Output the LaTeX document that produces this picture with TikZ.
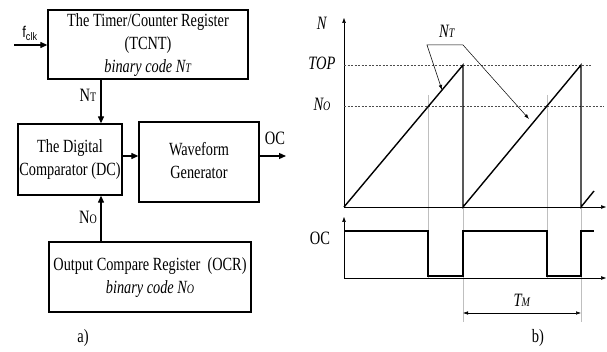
\documentclass[tikz,border=0pt]{standalone}
\usepackage{graphicx}
\usepackage{fontspec}
\setmainfont{Liberation Serif}
\newfontfamily\arialfont{Liberation Sans}
\usetikzlibrary{arrows.meta, positioning, calc}
\newcommand{\lowcap}[1]{{\fontsize{10}{10}\selectfont #1}}
\newcommand{\tall}[1]{\scalebox{1}[1.3]{\begin{tabular}{@{}c@{}}#1\end{tabular}}}

\begin{document}
\begin{tikzpicture}[
    x=1pt, y=-1pt,
    box/.style={rectangle, draw, line width=1.3pt, align=center, inner sep=0pt, font=\fontsize{14.3}{17.7}\selectfont},
    arrow/.style={-{Triangle[length=7pt, width=6pt]}, line width=1.2pt},
    axis/.style={-{Triangle[length=5pt, width=3.5pt]}, line width=0.6pt},
    wave/.style={line width=1.4pt},
    level/.style={dash pattern=on 2pt off 1.5pt, line width=0.7pt, black!70},
    guide/.style={line width=0.4pt, black!25},
    lbl/.style={font=\fontsize{14.5}{17}\selectfont},
    pointer/.style={{Latex[length=5pt, width=3.5pt]}-{Latex[length=5pt, width=3.5pt]}, line width=0.5pt}
]
\useasboundingbox (0,0) rectangle (607,352);

\node[box, minimum width=200pt, minimum height=69pt] (tcnt) at (148,44.5) {\tall{The Timer/Counter Register\\(TCNT)\\\textit{binary code N\lowcap{T}}}};
\node[box, minimum width=104pt, minimum height=71pt] (dc) at (70,159.5) {\tall{The Digital\\Comparator (DC)}};
\node[box, minimum width=120pt, minimum height=80pt] (wg) at (199,162) {\tall{Waveform\\Generator}};
\node[box, minimum width=202pt, minimum height=70pt] (ocr) at (150,277) {\tall{Output Compare Register~~(OCR)\\\textit{binary code N\lowcap{O}}}};

\coordinate (clk) at (14,45);
\coordinate (bus) at (101,0);
\coordinate (mid) at (0,156);
\coordinate (oc) at (286,156);
\node[font=\arialfont\fontsize{13}{13}\selectfont] (fclk) at (30,33) {\scalebox{1}[1.2]{f\textsubscript{clk}}};
\node[lbl] (ntl) at (88,97) {\tall{N\lowcap{T}}};
\node[lbl] (nol) at (88,219) {\tall{N\lowcap{O}}};
\node[lbl] (ocl) at (275,140) {\tall{OC}};
\node[lbl] (la) at (83,338) {\tall{a)}};

\draw[arrow] (clk) -- (clk -| tcnt.west);
\draw[arrow] (bus |- tcnt.south) -- (bus |- dc.north);
\draw[arrow] (bus |- ocr.north) -- (bus |- dc.south);
\draw[arrow] (dc.east |- mid) -- (wg.west |- mid);
\draw[arrow] (wg.east |- mid) -- (oc);

\coordinate (o1) at (344,207);
\coordinate (o2) at (344,278);
\foreach \x in {428,547} \draw[guide] (\x,95) -- (\x,278);
\foreach \x in {463,581} \draw[guide] (\x,207) -- (\x,322);
\draw[axis] (o1) -- (344,18);
\draw[axis] (o1) -- (606,207);
\draw[axis] (o2) -- (344,217);
\draw[axis] (o2) -- (606,278);
\draw[level] (o1 |- 0,65) -- (592,65);
\draw[level] (o1 |- 0,106) -- (604,106);
\draw[wave] (o1) -- (463,65) -- (463,207) -- (581,65) -- (581,207) -- (594,191);
\draw[wave] (344,231) -- (428,231) -- (428,276) -- (463,276) -- (463,231) -- (547,231) -- (547,276) -- (581,276) -- (581,231) -- (594,231);

\node[lbl] (nax) at (322,25) {\tall{\textit{N}}};
\node[lbl] (top) at (322,65) {\tall{\textit{TOP}}};
\node[lbl] (nor) at (322,106) {\tall{\textit{N\lowcap{O}}}};
\node[lbl] (ntr) at (447,33) {\tall{\textit{N\lowcap{T}}}};
\node[lbl] (ocr2) at (320,240) {\tall{OC}};
\node[lbl] (tm) at (522,302) {\tall{\textit{T\lowcap{M}}}};
\node[lbl] (lb) at (538,338) {\tall{b)}};

\draw[pointer] (442,90) -- (427,45) -- (463,45) -- (529,119);
\draw[pointer] (463,313) -- (581,313);
\end{tikzpicture}
\end{document}
